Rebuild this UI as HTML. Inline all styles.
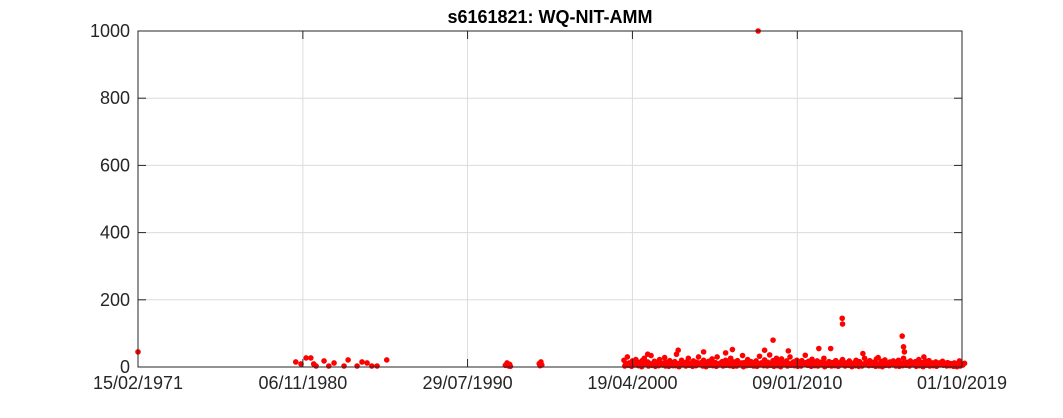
<!DOCTYPE html>
<html><head><meta charset="utf-8"><style>
body{margin:0;background:#fff;}
svg text{font-family:"Liberation Sans",Arial,sans-serif;fill:#262626;}
</style></head><body>
<svg id="chart" width="1063" height="413" xmlns="http://www.w3.org/2000/svg">
<rect width="1063" height="413" fill="#fff"/>
<text x="550" y="23" text-anchor="middle" font-size="18" font-weight="bold" style="fill:#000">s6161821: WQ-NIT-AMM</text>
<g id="grid"></g><g id="marks"></g><g id="axes"></g>
</svg>
<script>
const yTicks=[0,200,400,600,800,1000];
const xTickYears=[1971.12,1980.85,1990.57,2000.30,2010.03,2019.75];
const xTickLabels=["15/02/1971","06/11/1980","29/07/1990","19/04/2000","09/01/2010","01/10/2019"];
const sparseYears=[1971.12,1980.43,1980.74,1981.04,1981.32,1981.49,1981.63,1982.10,1982.38,1982.69,1983.28,1983.52,1984.05,1984.34,1984.64,1984.92,1985.23,1985.80,1992.8,1992.9,1993.0,1993.05,1993.1,1994.8,1994.85,1994.9,1994.95,2007.72,2012.68,2012.70,2016.22,2008.6,2003.0,2004.5,2006.2,2009.5,2011.3,2013.9,2016.3,2016.35,2017.5,2001.2,2005.8,2008.1,2010.5,2014.8];
const sparseVals=[45,15,9,27,27,9,3,18,3,12,3,21,3,15,12,3,3,21,5,12,3,8,2,10,4,15,6,1000,145,128,92,80,50,45,52,48,55,40,60,45,30,38,42,50,35,28];
const denseStart=1999.8, denseStep=0.1;
const denseVals=[20,8,30,12,5,18,10,22,6,14,9,20,26,7,15,11,34,8,17,5,13,22,10,6,28,14,9,19,12,4,16,38,10,7,20,13,6,15,26,9,12,18,5,14,30,8,11,20,12,6,17,10,24,7,13,30,9,12,16,6,20,10,12,26,8,15,5,19,12,9,34,13,7,22,11,16,6,12,18,9,32,12,8,21,11,14,36,10,19,7,26,16,11,24,9,12,18,6,30,11,15,8,20,10,13,19,9,12,6,17,10,23,8,12,18,7,14,10,26,11,9,16,55,13,8,19,10,6,15,22,10,12,8,18,11,7,13,20,9,16,10,6,26,12,9,19,8,14,11,24,9,7,17,12,21,10,6,15,10,18,8,12,20,9,11,26,7,14,10,18,12,8,16,10,22,9,13,6,18,11,19,8,12,10,15,6,12,9,17,10,8,13,11,7,10,12,9,11,18,8,6,11];
const baseVals=[3,5,2,6,4,1,7,3,5,2,4,6,3,2,5,4,1,6,3,5,2,4,7,3,1,5,4,2,6,3,5,4,2,3,6,1,4,5,3,2,6,4,3,5,2,4,1,6,3,5,4,2,3,7,5,2,4,3,6,1,5,3,4,2,6,3,5,1,4,2,3,6,4,5,2,3,1,5,4,6,3,2,4,5,3,6,2,4,1,5,3,4,2,6,5,3,4,2,1,3];
const X0=138,X1=962,Y0=367,Y1=31;
const xS=v=>X0+(v-1971.12)/(2019.75-1971.12)*(X1-X0);
const yS=v=>Y0-v/1000*(Y0-Y1);
const NS="http://www.w3.org/2000/svg";
const grid=document.getElementById('grid'),marks=document.getElementById('marks'),axes=document.getElementById('axes');
function mk(tag,attrs,parent){const e=document.createElementNS(NS,tag);for(const k in attrs)e.setAttribute(k,attrs[k]);parent.appendChild(e);return e;}
yTicks.forEach(t=>{
 const g=mk('line',{x1:X0,x2:X1,y1:yS(t),y2:yS(t),stroke:'#dcdcdc','stroke-width':1},grid);
 
 
 const tx=mk('text',{x:X0-8,y:yS(t)+6,'text-anchor':'end','font-size':18},axes);tx.textContent=t;
 
 
 mk('line',{x1:X0,x2:X0+8,y1:yS(t),y2:yS(t),stroke:'#262626'},axes);
 mk('line',{x1:X1,x2:X1-8,y1:yS(t),y2:yS(t),stroke:'#262626'},axes);
});
xTickYears.forEach((t,i)=>{
 const g=mk('line',{x1:xS(t),x2:xS(t),y1:Y0,y2:Y1,stroke:'#dcdcdc'},grid);
 
 
 const tx=mk('text',{x:xS(t),y:Y0+22,'text-anchor':'middle','font-size':18},axes);tx.textContent=xTickLabels[i];
 
 
 mk('line',{x1:xS(t),x2:xS(t),y1:Y0,y2:Y0-8,stroke:'#262626'},axes);
 mk('line',{x1:xS(t),x2:xS(t),y1:Y1,y2:Y1+8,stroke:'#262626'},axes);
});
const frame=mk('rect',{x:X0,y:Y1,width:X1-X0,height:Y0-Y1,fill:'none',stroke:'#262626','stroke-width':1},axes);


function dot(yr,v){const c=mk('circle',{cx:xS(yr),cy:yS(v),r:2.8,fill:'#ff0000'},marks);
 
 }
sparseYears.forEach((yr,i)=>dot(yr,sparseVals[i]));
denseVals.forEach((v,i)=>dot(denseStart+i*denseStep,v));
baseVals.forEach((v,i)=>dot(denseStart+0.05+i*denseStep*2,v));
baseVals.forEach((v,i)=>dot(denseStart+0.15+i*denseStep*2,v+6));
</script>
</body></html>
